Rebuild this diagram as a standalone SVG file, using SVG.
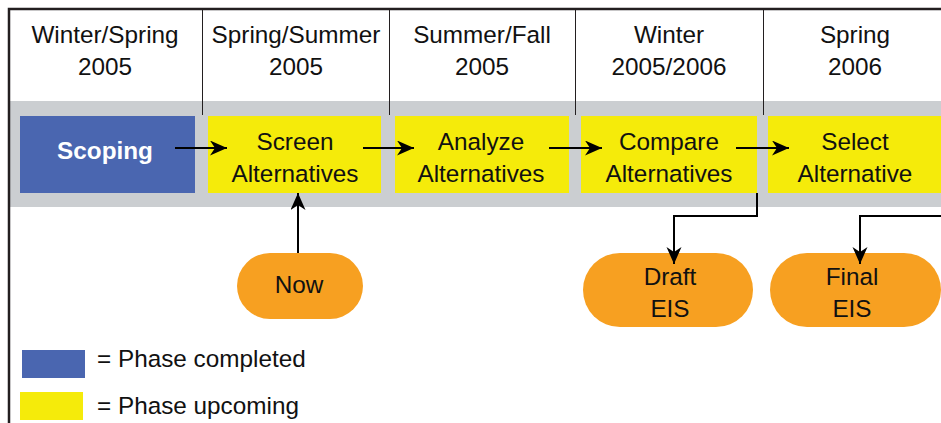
<svg xmlns="http://www.w3.org/2000/svg" width="941" height="423" viewBox="0 0 941 423">
<defs>
<marker id="ah" markerWidth="18" markerHeight="16" refX="17" refY="7.5" orient="auto" markerUnits="userSpaceOnUse">
<path d="M0,0 L17,7.5 L0,15 L5,7.5 Z" fill="#000"/>
</marker>
</defs>
<style>
text{font-family:"Liberation Sans",Arial,sans-serif;font-size:24.3px;fill:#111;text-anchor:middle}
.done{fill:#4A66B0}
.up{fill:#F5EB0A}
.pill{fill:#F7A021}
.conn{stroke:#000;stroke-width:2;fill:none}
.div{stroke:#231F20;stroke-width:1}
</style>
<rect width="941" height="423" fill="#fff"/>
<rect x="10" y="101" width="931" height="106" fill="#CBCED1"/>
<g id="frame">
<path d="M9,423 V9 H941" stroke="#231F20" stroke-width="2.5" fill="none"/>
<line class="div" x1="202.5" y1="10" x2="202.5" y2="115"/>
<line class="div" x1="389.5" y1="10" x2="389.5" y2="115"/>
<line class="div" x1="575.5" y1="10" x2="575.5" y2="115"/>
<line class="div" x1="763.5" y1="10" x2="763.5" y2="115"/>
</g>
<g id="headers">
<text x="105" y="43">Winter/Spring</text><text x="105" y="75">2005</text>
<text x="296" y="43">Spring/Summer</text><text x="296" y="75">2005</text>
<text x="482" y="43">Summer/Fall</text><text x="482" y="75">2005</text>
<text x="669" y="43">Winter</text><text x="669" y="75">2005/2006</text>
<text x="855" y="43">Spring</text><text x="855" y="75">2006</text>
</g>
<g id="scoping">
<rect class="done" x="20" y="116" width="175" height="77"/>
<text x="105" y="159" style="font-weight:bold;fill:#fff">Scoping</text>
</g>
<g id="screen">
<rect class="up" x="208" y="116" width="173" height="77"/>
<text x="295" y="150">Screen</text><text x="295" y="182">Alternatives</text>
</g>
<g id="analyze">
<rect class="up" x="395" y="116" width="174" height="77"/>
<text x="481" y="150">Analyze</text><text x="481" y="182">Alternatives</text>
</g>
<g id="compare">
<rect class="up" x="581" y="116" width="176" height="77"/>
<text x="669" y="150">Compare</text><text x="669" y="182">Alternatives</text>
</g>
<g id="select">
<rect class="up" x="768" y="116" width="173" height="77"/>
<text x="855" y="150">Select</text><text x="855" y="182">Alternative</text>
</g>
<g id="now">
<rect class="pill" x="237" y="253" width="126" height="66" rx="33"/>
<text x="299" y="293">Now</text>
</g>
<g id="draft">
<rect class="pill" x="583" y="253" width="170" height="74" rx="37"/>
<text x="670" y="285">Draft</text><text x="670" y="317">EIS</text>
</g>
<g id="final">
<rect class="pill" x="770" y="253" width="171" height="74" rx="37"/>
<text x="852" y="285">Final</text><text x="852" y="317">EIS</text>
</g>
<g id="connectors">
<path class="conn" d="M175,148 H227" marker-end="url(#ah)"/>
<path class="conn" d="M363,148 H414" marker-end="url(#ah)"/>
<path class="conn" d="M549,148 H602" marker-end="url(#ah)"/>
<path class="conn" d="M736,148 H789" marker-end="url(#ah)"/>
<path class="conn" d="M298,253 V193" marker-end="url(#ah)"/>
<path class="conn" d="M757,193 V216 H674 V264" marker-end="url(#ah)"/>
<path class="conn" d="M941,216 H860 V264" marker-end="url(#ah)"/>
</g>
<g id="legend">
<rect class="done" x="22" y="350" width="63" height="28"/>
<text x="97" y="367" style="text-anchor:start">= Phase completed</text>
<rect class="up" x="20" y="392" width="63" height="28"/>
<text x="97" y="414" style="text-anchor:start">= Phase upcoming</text>
</g>
</svg>
